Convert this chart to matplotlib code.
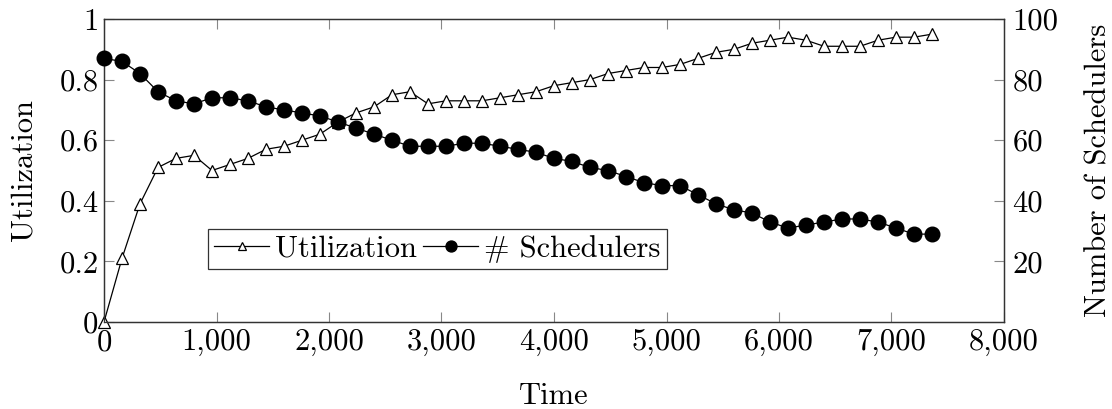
import matplotlib
matplotlib.use("Agg")
import matplotlib.pyplot as plt
from matplotlib.ticker import FixedLocator, FixedFormatter

plt.rcParams['font.family'] = ['cmr10', 'DejaVu Serif']
plt.rcParams['axes.formatter.use_mathtext'] = True
plt.rcParams['mathtext.fontset'] = 'cm'

time = list(range(0, 7361, 160))
utilization = [0.00, 0.21, 0.39, 0.51, 0.54, 0.55, 0.50, 0.52, 0.54, 0.57,
               0.58, 0.60, 0.62, 0.66, 0.69, 0.71, 0.75, 0.76, 0.72, 0.73,
               0.73, 0.73, 0.74, 0.75, 0.76, 0.78, 0.79, 0.80, 0.82, 0.83,
               0.84, 0.84, 0.85, 0.87, 0.89, 0.90, 0.92, 0.93, 0.94, 0.93,
               0.91, 0.91, 0.91, 0.93, 0.94, 0.94, 0.95]
schedulers = [87, 86, 82, 76, 73, 72, 74, 74, 73, 71,
              70, 69, 68, 66, 64, 62, 60, 58, 58, 58,
              59, 59, 58, 57, 56, 54, 53, 51, 50, 48,
              46, 45, 45, 42, 39, 37, 36, 33, 31, 32,
              33, 34, 34, 33, 31, 29, 29]

x_ticks = [0, 1000, 2000, 3000, 4000, 5000, 6000, 7000, 8000]
x_labels = ['0', '1,000', '2,000', '3,000', '4,000', '5,000', '6,000', '7,000', '8,000']
y1_ticks = [0, 0.2, 0.4, 0.6, 0.8, 1]
y1_labels = ['0', '0.2', '0.4', '0.6', '0.8', '1']
y2_ticks = [20, 40, 60, 80, 100]
y2_labels = ['20', '40', '60', '80', '100']

FS = 22
fig = plt.figure(figsize=(11.12, 4.09), dpi=100)
ax = fig.add_axes([104/1112, 1-322/409, 900/1112, 303/409])
ax2 = ax.twinx()

l1, = ax.plot(time, utilization, color='black', lw=0.9, marker='^',
              markersize=8.5, markerfacecolor='white', markeredgecolor='black',
              markeredgewidth=0.9, label='Utilization', clip_on=False, zorder=3)
l2, = ax2.plot(time, schedulers, color='black', lw=0.9, marker='o',
               markersize=10.5, markerfacecolor='black', markeredgecolor='black',
               label='# Schedulers', clip_on=False, zorder=3)

ax.set_xlim(0, 8000)
ax.set_ylim(0, 1)
ax2.set_ylim(0, 100)

ax.xaxis.set_major_locator(FixedLocator(x_ticks))
ax.xaxis.set_major_formatter(FixedFormatter(x_labels))
ax.yaxis.set_major_locator(FixedLocator(y1_ticks))
ax.yaxis.set_major_formatter(FixedFormatter(y1_labels))
ax2.yaxis.set_major_locator(FixedLocator(y2_ticks))
ax2.yaxis.set_major_formatter(FixedFormatter(y2_labels))

ax.tick_params(axis='x', direction='in', top=True, bottom=True, length=7,
               width=0.8, color='#888888', labelsize=FS, pad=5)
ax.tick_params(axis='y', direction='in', left=True, right=False, length=7,
               width=0.8, color='#888888', labelsize=FS, pad=4)
ax2.tick_params(axis='y', direction='in', right=True, length=7,
                width=0.8, color='#888888', labelsize=FS, pad=6)

for a in (ax, ax2):
    for s in a.spines.values():
        s.set_linewidth(0.9)
        s.set_color('#333333')

ax.set_xlabel('Time', fontsize=FS, labelpad=19)
ax.set_ylabel('Utilization', fontsize=FS, labelpad=16)
ax2.set_ylabel('Number of Schedulers', fontsize=FS, labelpad=19)

leg = ax2.legend([l1, l2], ['Utilization', '# Schedulers'], ncol=2,
                 loc='center', bbox_to_anchor=(0.3706, 0.241), fontsize=FS,
                 frameon=True, fancybox=False, edgecolor='black',
                 handlelength=1.8, handletextpad=0.2, columnspacing=0.2,
                 borderpad=0.2, markerscale=0.75, borderaxespad=0)
leg.get_frame().set_linewidth(0.9)
leg.set_zorder(5)

fig.savefig('out.png', dpi=100)
